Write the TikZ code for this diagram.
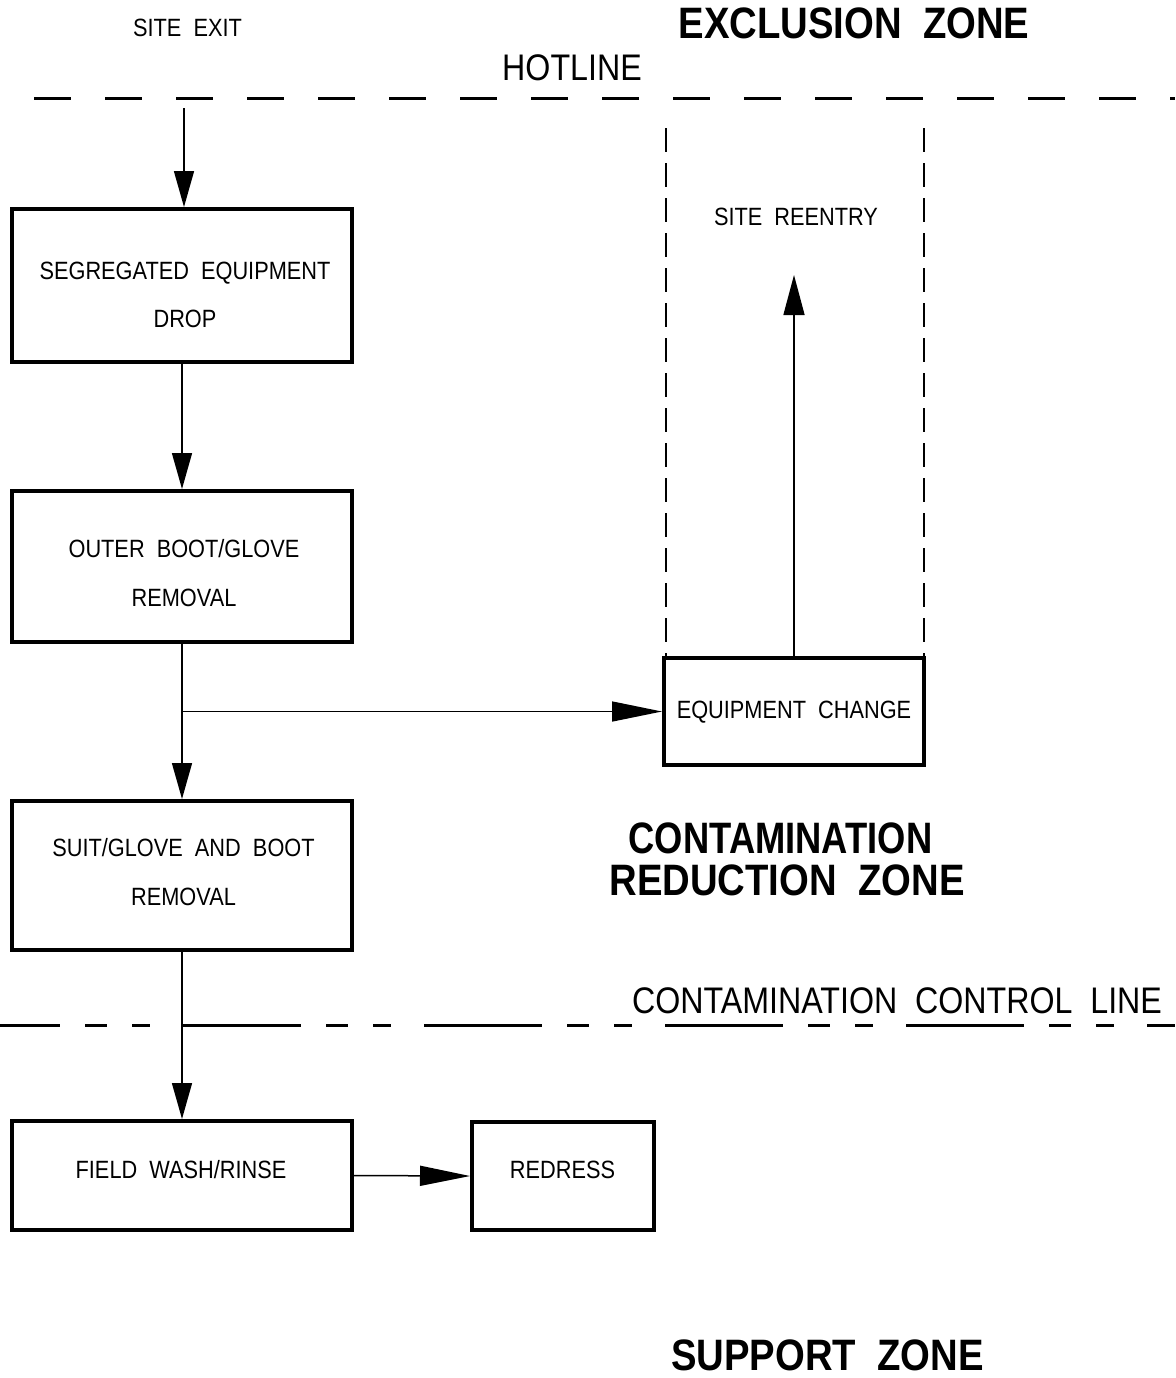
\documentclass[tikz,border=0pt]{standalone}
\usepackage{fontspec}
\setmainfont{Liberation Sans}[FakeStretch=0.87]
\usetikzlibrary{arrows.meta}
\begin{document}
\begin{tikzpicture}[x=0.5pt,y=-0.5pt,
  box/.style={draw, line width=2pt, minimum width=170pt, inner sep=0pt},
  boxtxt/.style={anchor=base, inner sep=0pt, font=\fontsize{12.5}{24}\selectfont},
  bigtxt/.style={anchor=base, inner sep=0pt, font=\fontsize{18.5}{20}\selectfont},
  zonetxt/.style={anchor=base, inner sep=0pt, font=\fontsize{22}{22}\bfseries\selectfont},
  varrow/.style={line width=0.75pt, -{Triangle[length=18pt,width=10pt]}},
  harrow/.style={line width=0.75pt, -{Triangle[length=25pt,width=10pt]}},
  zoneline/.style={line width=1.5pt},
  vdash/.style={line width=0.7pt, dash pattern=on 12pt off 5.5pt}]
\useasboundingbox (0,0) rectangle (1175,1378);

% boxes
\node[box, minimum height=76.5pt] (b1) at (182,285.5) {};
\node[box, minimum height=75.5pt] (b2) at (182,566.5) {};
\node[box, minimum height=74.5pt] (b3) at (182,875.5) {};
\node[box, minimum height=54.5pt] (b4) at (182,1175.5) {};
\node[box, minimum width=91pt, minimum height=54pt] (b5) at (563,1176) {};
\node[box, minimum width=130pt, minimum height=53.5pt] (eq) at (794,711.5) {};

% box texts
\node[boxtxt] (b1t1) at (185,279) {SEGREGATED~~EQUIPMENT};
\node[boxtxt] (b1t2) at (185,327) {DROP};
\node[boxtxt] (b2t1) at (184,557) {OUTER~~BOOT/GLOVE};
\node[boxtxt] (b2t2) at (184,606) {REMOVAL};
\node[boxtxt] (b3t1) at (183.5,856) {SUIT/GLOVE~~AND~~BOOT};
\node[boxtxt] (b3t2) at (183.5,905) {REMOVAL};
\node[boxtxt] (b4t) at (181,1178) {FIELD~~WASH/RINSE};
\node[boxtxt] (b5t) at (562.5,1178) {REDRESS};
\node[boxtxt] (eqt) at (794,718) {EQUIPMENT~~CHANGE};

% other texts
\node[boxtxt] (siteexit) at (187.5,36) {SITE~~EXIT};
\node[zonetxt] (ez) at (854,38) {EXCLUSION~~ZONE};
\node[bigtxt] (hot) at (572,80) {HOTLINE};
\node[boxtxt] (reentrytxt) at (796,225) {SITE~~REENTRY};
\node[zonetxt] (cz1) at (780.5,853) {\scalebox{0.95}[1]{CONTAMINATION}};
\node[zonetxt] (cz2) at (787,895) {REDUCTION~~ZONE};
\node[bigtxt] (ccl) at (897,1013) {CONTAMINATION~~CONTROL~~LINE};
\node[zonetxt] (sz) at (827.5,1370) {SUPPORT~~ZONE};

% zone lines
\coordinate (hl0) at (0,98);
\coordinate (hl1) at (1175,98);
\draw[zoneline, dash pattern=on 18.5pt off 17pt, dash phase=18.5pt] (hl0) -- (hl1);
\coordinate (cl0) at (0,1025);
\coordinate (cl1) at (1175,1025);
\draw[zoneline, dash pattern=on 59pt off 12.5pt on 11pt off 12.5pt on 9pt off 16.5pt, dash phase=29pt] (cl0) -- (cl1);

% corridor dashed lines
\coordinate (vt1) at (666,128);
\coordinate (vt2) at (924,128);
\draw[vdash] (vt1) -- (vt1 |- eq.north);
\draw[vdash] (vt2) -- (vt2 |- eq.north);

% connectors
\coordinate (se) at (184,108);
\coordinate (re) at (794,275);
\draw[varrow] (se) -- (se |- b1.north);
\draw[varrow] (b1.south) -- (b2.north);
\draw[varrow] (b2.south) -- (b3.north);
\draw[harrow] (b2.south |- eq.west) -- (eq.west);
\draw[varrow] (b3.south) -- (b4.north);
\draw[harrow] (b4.east) -- (b5.west);
\draw[line width=0.75pt, -{Triangle[length=20pt,width=10.5pt]}] (eq.north) -- (re);
\end{tikzpicture}
\end{document}
